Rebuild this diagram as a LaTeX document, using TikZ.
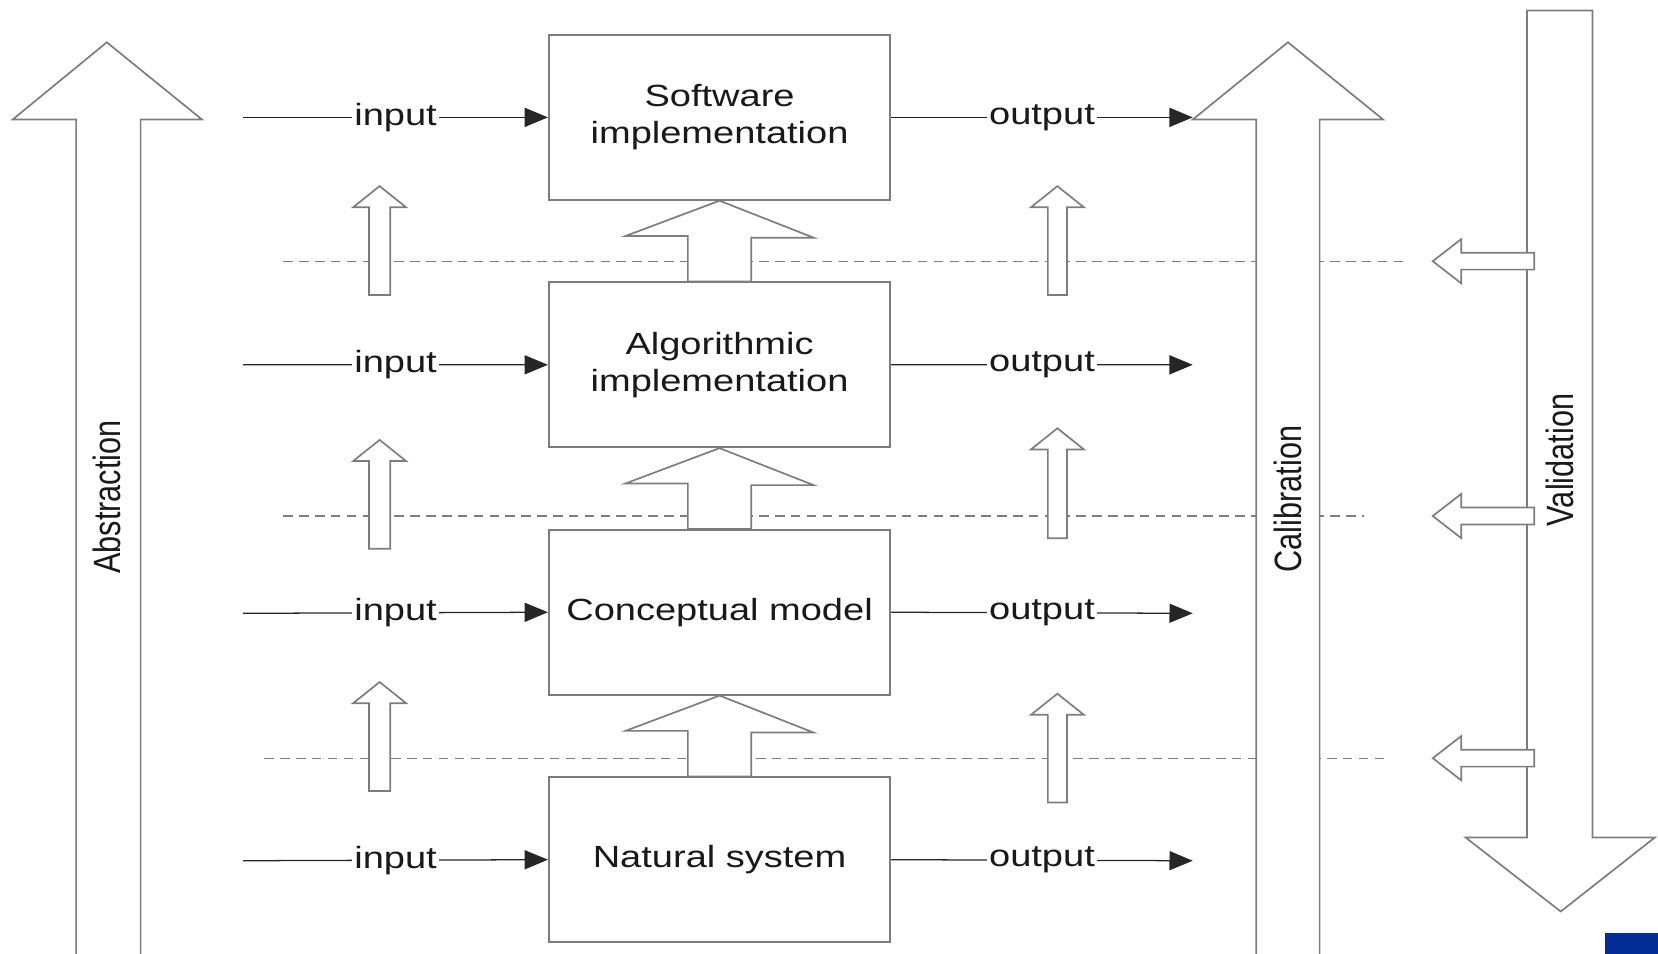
\documentclass[tikz,border=0pt]{standalone}
\usepackage{fontspec}
\usepackage{graphicx}
\usepackage{tikz}
\usetikzlibrary{positioning, arrows.meta, calc}
\newfontfamily\diagfont[FakeStretch=1.24]{Liberation Sans}
\newfontfamily\sidefont{Liberation Sans}
\definecolor{linegray}{RGB}{125,125,125}
\definecolor{cornerblue}{RGB}{0,45,150}
\tikzset{
	>={Triangle[length=11pt,width=9pt]},
	node distance=38.2pt,
}

\begin{document}
\begin{tikzpicture}[
    x=0.5pt,
    y=-0.5pt,
    blk/.style={draw=linegray, line width=0.8pt, minimum width=161.5pt, minimum height=78pt, align=center, text=black!90, font=\diagfont\fontsize{14.5}{17.5}\selectfont},
    io/.style={->, draw=black!85, line width=0.6pt},
    lbl/.style={fill=white, inner sep=1pt, text=black!90, font=\diagfont\fontsize{14.5}{15.5}\selectfont},
    barrow/.style={draw=linegray, fill=white, line width=0.8pt},
    sep/.style={draw=linegray, line width=0.6pt, dash pattern=on 4.5pt off 3pt},
    side/.style={rotate=90, text=black!90, font=\sidefont\fontsize{14.5}{15.5}\selectfont}
]
\useasboundingbox (0,0) rectangle (1568,902);

% --- Level separators ---
\draw[sep] (268,247) -- (1330,247);
\draw[sep] (268,488) -- (1290,488);
\draw[sep] (250,717) -- (1310,717);

% --- Model levels ---
\node[blk] (sw) at (680.5,111) {Software\\implementation};
\node[blk, below=of sw] (alg) {Algorithmic\\implementation};
\node[blk, below=of alg] (con) {Conceptual model};
\node[blk, below=of con] (nat) {Natural system};

% --- Inputs ---
\coordinate (in1) at (230,111);
\coordinate (in2) at (230,345);
\coordinate (in3) at (230,580);
\coordinate (in4) at (230,814);
\draw[io] (in1) -- node[lbl] {input} (sw.west);
\draw[io] (in2) -- node[lbl] {input} (alg.west);
\draw[io] (in3) -- node[lbl] {input} (con.west);
\draw[io] (in4) -- node[lbl] {input} (nat.west);

% --- Outputs ---
\coordinate (out1) at (1128,111);
\coordinate (out2) at (1128,345);
\coordinate (out3) at (1128,580);
\coordinate (out4) at (1128,814);
\draw[io] (sw.east) -- node[lbl] {output} (out1);
\draw[io] (alg.east) -- node[lbl] {output} (out2);
\draw[io] (con.east) -- node[lbl] {output} (out3);
\draw[io] (nat.east) -- node[lbl] {output} (out4);

% --- Arrows between levels ---
\draw[barrow] (sw.south) -- ++(89,35) -- ++(-59,0) -- ($(alg.north)+(30,0)$)
  -- ($(alg.north)+(-30,0)$) -- ++(0,-43) -- ++(-59,0) -- cycle;
\draw[barrow] (alg.south) -- ++(89,35) -- ++(-59,0) -- ($(con.north)+(30,0)$)
  -- ($(con.north)+(-30,0)$) -- ++(0,-43) -- ++(-59,0) -- cycle;
\draw[barrow] (con.south) -- ++(89,35) -- ++(-59,0) -- ($(nat.north)+(30,0)$)
  -- ($(nat.north)+(-30,0)$) -- ++(0,-43) -- ++(-59,0) -- cycle;

% --- Small arrows, input side ---
\draw[barrow] (359,176) -- (384,196) -- (369,196) -- (369,279) -- (349,279) -- (349,196) -- (334,196) -- cycle;
\draw[barrow] (359,416) -- (384,436) -- (369,436) -- (369,519) -- (349,519) -- (349,436) -- (334,436) -- cycle;
\draw[barrow] (359,645) -- (384,665) -- (369,665) -- (369,748) -- (349,748) -- (349,665) -- (334,665) -- cycle;

% --- Small arrows, output side ---
\draw[barrow] (1000,176) -- (1025,196) -- (1009,196) -- (1009,279) -- (991,279) -- (991,196) -- (975,196) -- cycle;
\draw[barrow] (1000,405) -- (1025,425) -- (1009,425) -- (1009,509) -- (991,509) -- (991,425) -- (975,425) -- cycle;
\draw[barrow] (1000,656) -- (1025,676) -- (1009,676) -- (1009,759) -- (991,759) -- (991,676) -- (975,676) -- cycle;

% --- Abstraction ---
\draw[barrow] (72,910) -- (72,113) -- (12,113) -- (101,40) -- (191,113) -- (133,113) -- (133,910);
\node[side] (abs) at (101,470) {\scalebox{1}[1.24]{Abstraction}};

% --- Calibration ---
\draw[barrow] (1188,910) -- (1188,113) -- (1128,113) -- (1218,40) -- (1308,113) -- (1248,113) -- (1248,910);
\node[side] (cal) at (1218,472) {\scalebox{1}[1.24]{Calibration}};

% --- Validation ---
\draw[barrow] (1444,10) -- (1444,792) -- (1386,792) -- (1476,862) -- (1565,792) -- (1506,792) -- (1506,10) -- cycle;
\node[side] (val) at (1475,435) {\scalebox{1}[1.24]{Validation}};

% --- Feedback to each level ---
\draw[barrow] (1355,247) -- (1382,226) -- (1382,239) -- (1451,239) -- (1451,255) -- (1382,255) -- (1382,268) -- cycle;
\draw[barrow] (1355,488) -- (1382,467) -- (1382,480) -- (1451,480) -- (1451,496) -- (1382,496) -- (1382,509) -- cycle;
\draw[barrow] (1355,717) -- (1382,696) -- (1382,709) -- (1451,709) -- (1451,725) -- (1382,725) -- (1382,738) -- cycle;

% --- corner mark ---
\fill[cornerblue] (1518,882) rectangle (1568,902);
\end{tikzpicture}
\end{document}
